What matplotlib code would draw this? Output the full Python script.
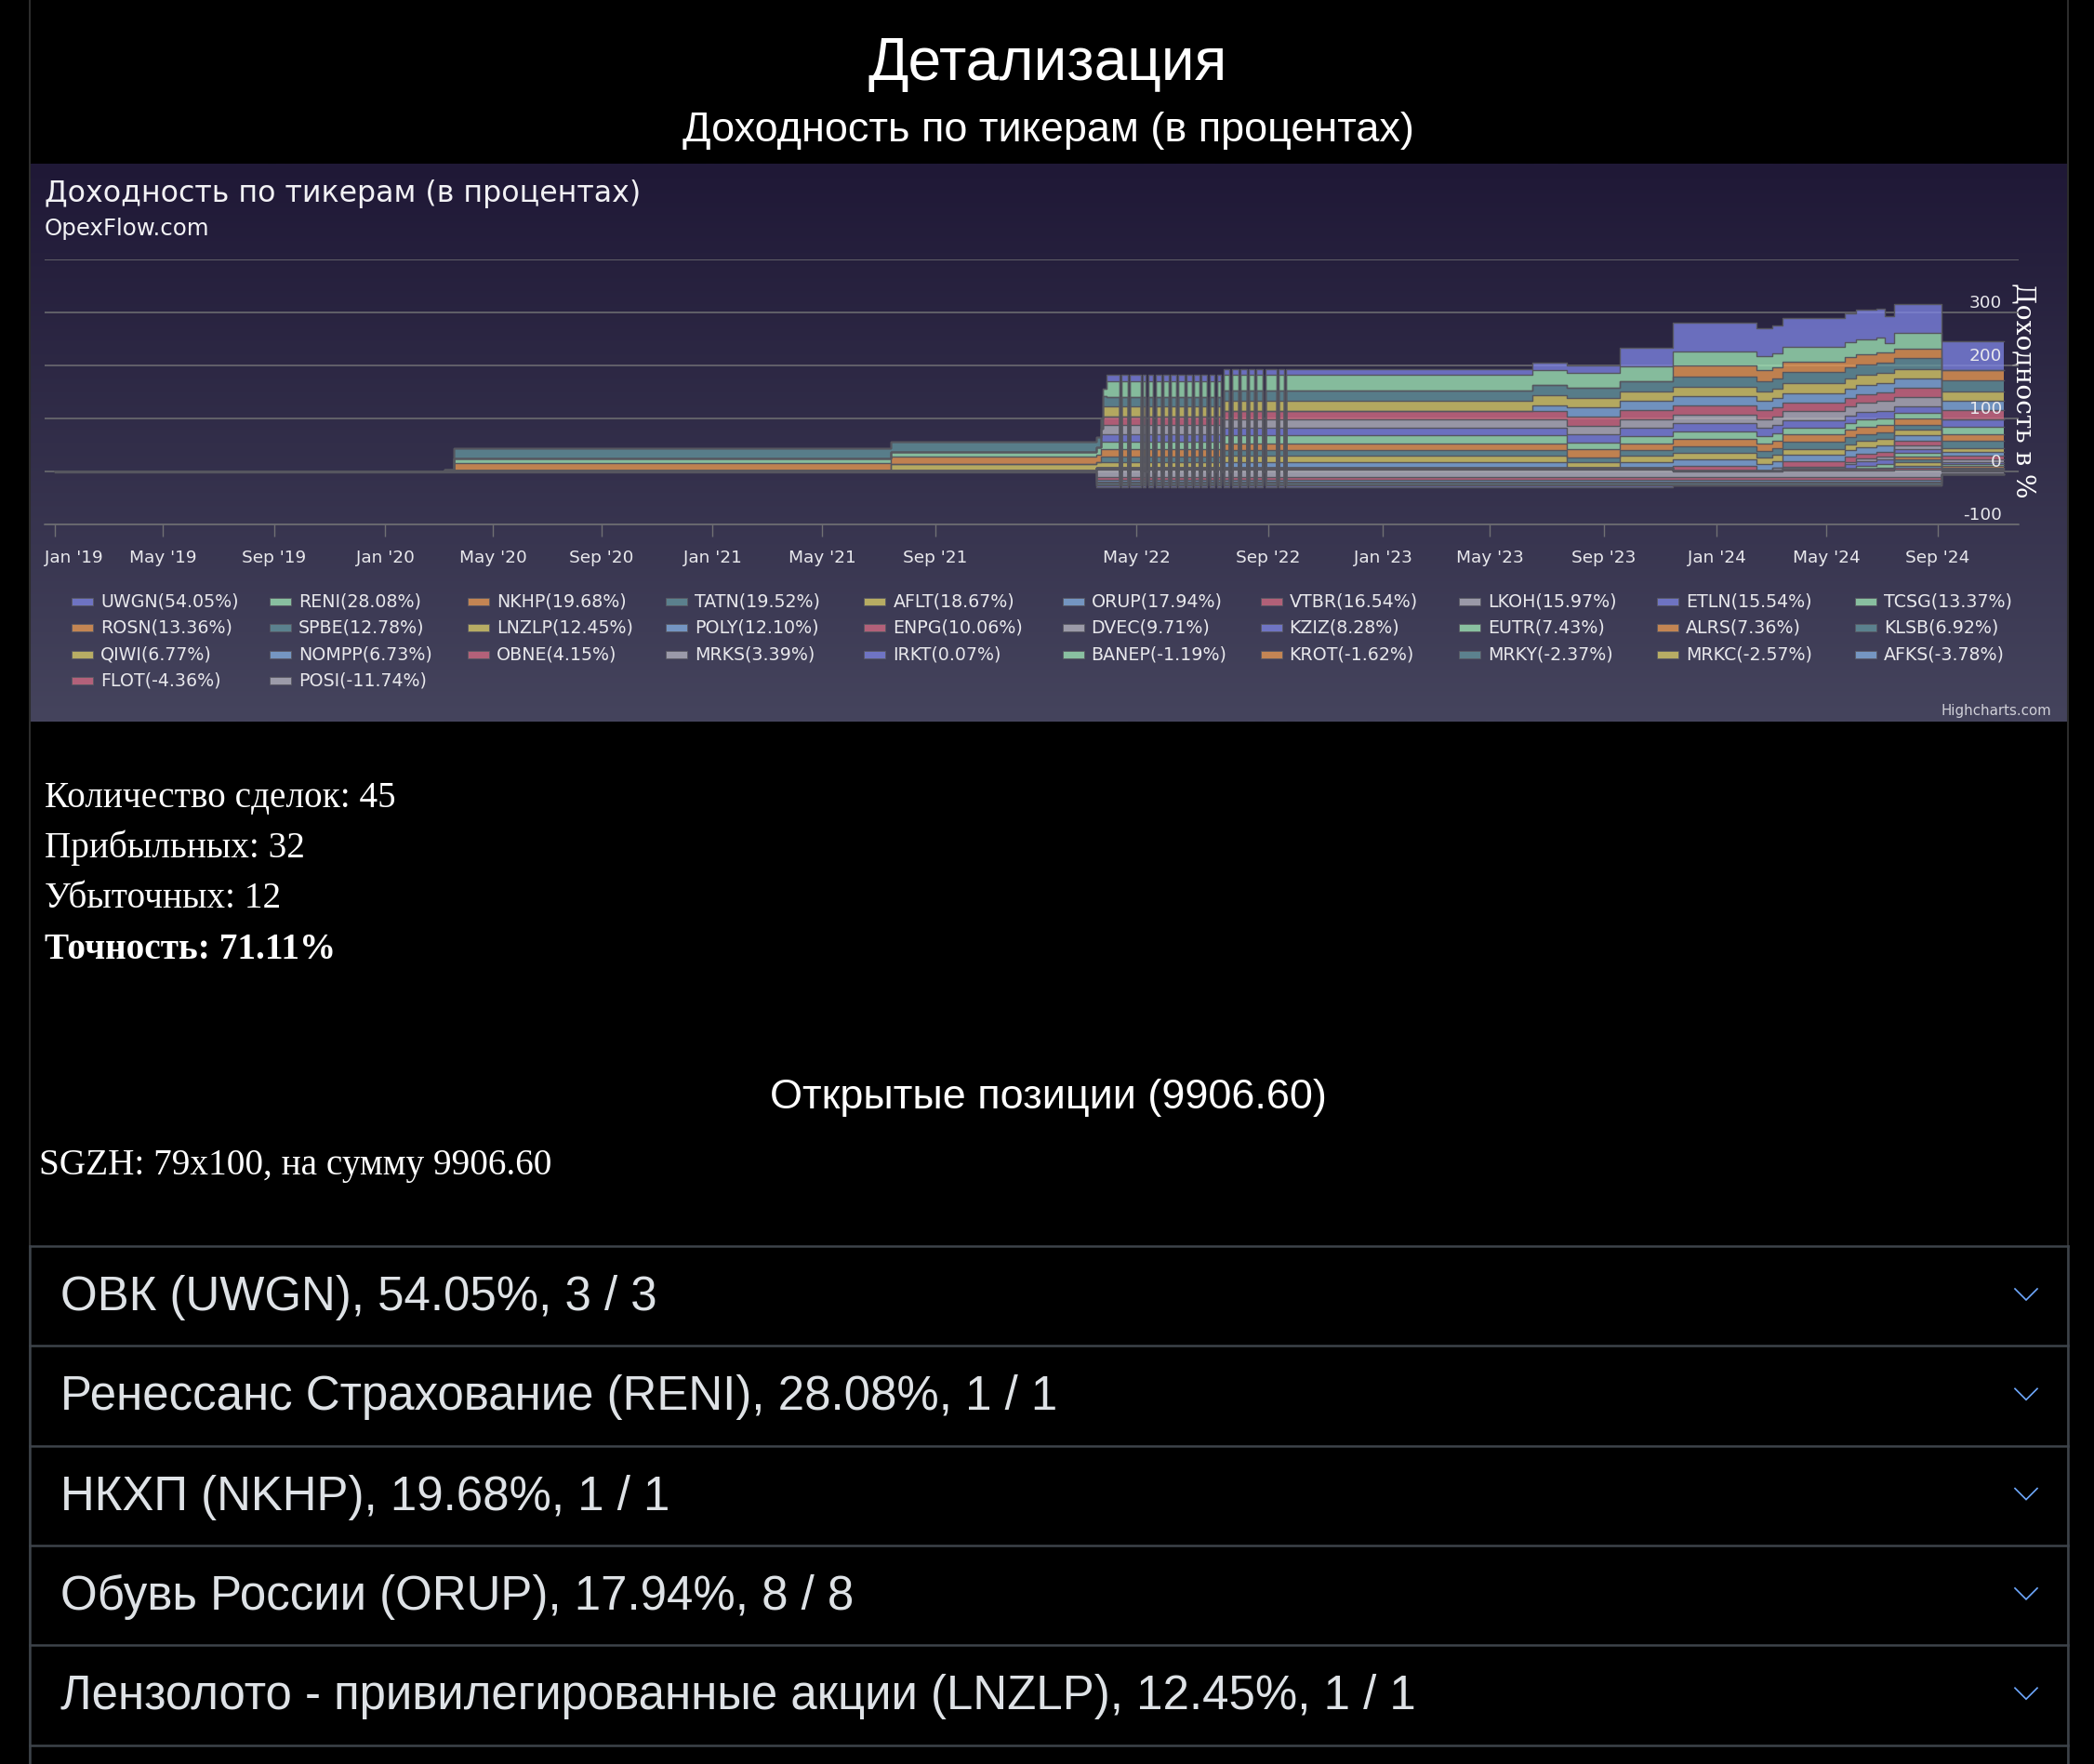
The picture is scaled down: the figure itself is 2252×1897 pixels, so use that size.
import numpy as np
import matplotlib
matplotlib.use('Agg')
import matplotlib.pyplot as plt
import matplotlib.dates as mdates
import matplotlib.transforms as mtransforms
from matplotlib.colors import to_rgba
from matplotlib.patches import Rectangle

W, H, DPI = 2252, 1897, 100

# ---------------- data ----------------
TICKERS = ['UWGN', 'RENI', 'NKHP', 'TATN', 'AFLT', 'ORUP', 'VTBR', 'LKOH', 'ETLN', 'TCSG',
           'ROSN', 'SPBE', 'LNZLP', 'POLY', 'ENPG', 'DVEC', 'KZIZ', 'EUTR', 'ALRS', 'KLSB',
           'QIWI', 'NOMPP', 'OBNE', 'MRKS', 'IRKT', 'BANEP', 'KROT', 'MRKY', 'MRKC', 'AFKS',
           'FLOT', 'POSI']
TOTAL_PCT = [54.05, 28.08, 19.68, 19.52, 18.67, 17.94, 16.54, 15.97, 15.54, 13.37,
             13.36, 12.78, 12.45, 12.10, 10.06, 9.71, 8.28, 7.43, 7.36, 6.92,
             6.77, 6.73, 4.15, 3.39, 0.07, -1.19, -1.62, -2.37, -2.57, -3.78,
             -4.36, -11.74]
PALETTE = ['#8087E8', '#A3EDBA', '#F19E53', '#6699A1', '#E1D369', '#87B4E7', '#DA6D85', '#BBBAC5']

STEP_DATES = ['2019-01-01', '2020-03-08', '2020-03-18', '2021-07-15', '2022-03-14', '2022-03-19',
              '2022-03-22', '2022-03-26', '2022-07-21', '2023-06-16', '2023-07-23', '2023-09-18',
              '2023-11-15', '2024-02-14', '2024-03-03', '2024-03-14', '2024-05-22', '2024-06-03',
              '2024-06-25', '2024-07-05', '2024-07-15', '2024-09-05']
END_DATE = '2024-11-12'
GAP_DATES = ['2022-04-11', '2022-04-21', '2022-05-05', '2022-05-10', '2022-05-17', '2022-05-24',
             '2022-05-31', '2022-06-07', '2022-06-15', '2022-06-22', '2022-06-29', '2022-07-06',
             '2022-07-13', '2022-07-19', '2022-07-27', '2022-08-04', '2022-08-12', '2022-08-19',
             '2022-08-27', '2022-09-10', '2022-09-18']
GAP_DAYS = 2

UWGN = [0, 0, 0, 0, 0, 0, 0, 11.6, 11.6, 14, 12.9, 35, 55.3, 53.8, 53.8, 55.5, 55.5, 55.5, 55.5, 51, 54.4, 55.5]
RENI = [0, 0, 0, 0, 0, 0, 15, 29.3, 29.3, 29.3, 28, 29, 26.3, 26.3, 26.3, 28, 28, 28, 28, 18, 29, 0]
NKHP = [0] * 12 + [20.4, 20.4, 20.4, 18.7, 18.7, 18.7, 18.7, 18.7, 17.6, 19.3]
TATN = [0, 0, 19.3, 19.3, 19.3, 19.3, 19.3, 18.7, 18.7, 18.7, 20.5, 19, 19.4, 19.4, 19.4, 20.5, 20.5, 20.5, 20.5, 20.5, 20.5, 19.9]
AFLT = [0, 0, 0, 0, 0, 0, 19.3, 19.3, 19.3, 19.3, 17.5, 18.4, 17.6, 17.6, 17.6, 19.3, 19.3, 19.3, 19.3, 19.3, 18.7, 17.5]
ORUP = [0] * 9 + [10, 17.5, 17.6, 17.4, 17.4, 17.4, 17.5, 17.5, 17.5, 17.5, 17.5, 17.5, 17.5]
VTBR = [0, 0, 0, 0, 0, 0, 15.8, 15.8, 15.8, 15.8, 17.6, 16, 17, 17, 17, 15.8, 15.8, 15.8, 15.8, 15.8, 17.5, 17.5]
LKOH = [0, 0, 0, 0, 0, 10, 16.3, 16.3, 16.3, 16.3, 15.8, 16.5, 16.4, 16.4, 16.4, 17.6, 17.6, 17.6, 17.6, 17.6, 16.4, 0]
ETLN = [0, 0, 0, 0, 0, 14.6, 14.6, 14.6, 14.6, 14.6, 15.2, 15.2, 16.3, 16.3, 16.3, 14.5, 14.5, 14.5, 14.5, 14.5, 13, 15.2]
TCSG = [0, 3, 9.9, 8.8, 14.7, 14.7, 14.7, 14.7, 14.7, 14.7, 12.9, 14.1, 12.9, 12.9, 12.9, 12.9, 12.9, 12.9, 12.9, 12.9, 11, 13]
ROSN = [0, 0, 12.9, 14, 12.8, 12.8, 12.8, 12.8, 12.8, 12.8, 14.6, 12.8, 14.6, 14.6, 14.6, 13.5, 13.5, 13.5, 13.5, 13.5, 11, 12.9]
SPBE = [0, 0, 0, 0, 0, 10.6, 10.6, 10.6, 10.6, 10.6, 9.9, 10.6, 11.7, 11.7, 11.7, 13.4, 13.4, 13.4, 13.4, 13.4, 10, 13.4]
LNZLP = [0, 0, 0, 12.3, 11.7, 11.7, 11.7, 11.7, 11.7, 11.7, 10.6, 11.7, 12.9, 12.9, 12.9, 11.7, 11.7, 11.7, 11.7, 11.7, 10, 8]
POLY = [0] * 8 + [11.7, 11.7, 0, 11.7, 12.3, 12.3, 12.3, 11.7, 11.7, 11.7, 11.7, 11.7, 10, 7]
ENPG = [0] * 12 + [8.7, 0, 0, 9.9, 9.9, 9.9, 9.9, 9.9, 9, 6]
DVEC = [0] * 14 + [5, 5, 5, 5, 5, 5, 8, 5]
KZIZ = [0] * 16 + [8.8, 8.8, 8.8, 8.8, 7, 4.5]
EUTR = [0] * 17 + [6, 6, 6, 6, 3.5]
ALRS = [0] * 18 + [3, 3, 6, 3]
KLSB = [0] * 20 + [5.5, 2.5]
QIWI = [0] * 20 + [5.5, 2]
NOMPP = [0] * 20 + [5, 1.5]
OBNE = [0, 0, 0, 0, 3, 3, 3, 3, 3, 3, 3, 3, 1, 1, 1, 2.5, 2.5, 2.5, 2.5, 2.5, 3.5, 1]
MRKS = [0, 0, 2.3, 2.3, 3.4, 3.4, 3.4, 3.4, 3.4, 3.4, 3.4, 3.4, 0.8, 0.8, 0.8, 2, 2, 2, 2, 2, 2.9, 0.4]
IRKT = [-2.5] * 12 + [0] * 10
BANEP = [0] * 4 + [-1.2] * 17 + [0]
KROT = [0] * 4 + [-1.6] * 17 + [0]
MRKY = [0] * 4 + [-2.4] * 17 + [0]
MRKC = [0] * 4 + [-2.6] * 17 + [0]
AFKS = [0] * 4 + [-3.8] * 17 + [-1]
FLOT = [0] * 4 + [-4.4] * 17 + [-1]
POSI = [0] * 4 + [-11] * 17 + [-4]

SERIES = [UWGN, RENI, NKHP, TATN, AFLT, ORUP, VTBR, LKOH, ETLN, TCSG,
          ROSN, SPBE, LNZLP, POLY, ENPG, DVEC, KZIZ, EUTR, ALRS, KLSB,
          QIWI, NOMPP, OBNE, MRKS, IRKT, BANEP, KROT, MRKY, MRKC, AFKS,
          FLOT, POSI]

XTICK_DATES = ['2019-01-01', '2019-05-01', '2019-09-01', '2020-01-01', '2020-05-01', '2020-09-01',
               '2021-01-01', '2021-05-01', '2021-09-01', '2022-05-01', '2022-09-01', '2023-01-01',
               '2023-05-01', '2023-09-01', '2024-01-01', '2024-05-01', '2024-09-01']
XTICK_LABELS = ["Jan '19", "May '19", "Sep '19", "Jan '20", "May '20", "Sep '20", "Jan '21", "May '21",
                "Sep '21", "May '22", "Sep '22", "Jan '23", "May '23", "Sep '23", "Jan '24", "May '24",
                "Sep '24"]
YTICKS = [-100, 0, 100, 200, 300, 400]
YLABELS = ['-100', '0', '100', '200', '300']

STATS = ['Количество сделок: 45', 'Прибыльных: 32', 'Убыточных: 12']
ACCURACY = 'Точность: 71.11%'
OPEN_TITLE = 'Открытые позиции (9906.60)'
OPEN_LINE = 'SGZH: 79x100, на сумму 9906.60'
ITEMS = ['ОВК (UWGN), 54.05%, 3 / 3',
         'Ренессанс Страхование (RENI), 28.08%, 1 / 1',
         'НКХП (NKHP), 19.68%, 1 / 1',
         'Обувь России (ORUP), 17.94%, 8 / 8',
         'Лензолото - привилегированные акции (LNZLP), 12.45%, 1 / 1']

# ordinal-like axis anchors (layout of the original time axis)
ANCHOR_DATES = ['2018-01-01'] + XTICK_DATES + ['2026-01-01']
ANCHOR_PX = [-298, 59, 175, 295, 414, 530, 647, 766, 884, 1006, 1222, 1364, 1487, 1602, 1725,
             1846, 1964, 2084, 2561]

# ---------------- build stacks ----------------
step_t = np.array(STEP_DATES, dtype='datetime64[D]')
gap_t = np.array(GAP_DATES, dtype='datetime64[D]')
gap_e = gap_t + np.timedelta64(GAP_DAYS, 'D')
end_t = np.array([END_DATE], dtype='datetime64[D]')
grid = np.unique(np.concatenate([step_t, gap_t, gap_e, end_t]))
idx = np.searchsorted(step_t, grid, side='right') - 1
in_gap = np.zeros(len(grid), bool)
for s, e in zip(gap_t, gap_e):
    in_gap |= (grid >= s) & (grid < e)
V = np.array(SERIES, dtype=float)[:, idx]
V[:, in_gap] = 0.0
xs = mdates.date2num(grid)

pos = np.clip(V, 0, None)
neg = np.clip(V, None, 0)
pos_base = np.cumsum(pos[::-1], axis=0)[::-1] - pos
neg_base = np.cumsum(neg[::-1], axis=0)[::-1] - neg

# ---------------- figure ----------------
fig = plt.figure(figsize=(W / DPI, H / DPI), dpi=DPI, facecolor='black')
pg = fig.add_axes([0, 0, 1, 1])
pg.set_zorder(1)
pg.axis('off')

PANEL = (32, 2224, 176, 776)
grad = np.linspace(0, 1, 256)[:, None, None]
c0 = np.array(to_rgba('#1f1836')[:3])
c1 = np.array(to_rgba('#45445d')[:3])
img = c0 + (c1 - c0) * grad
pg.imshow(img, extent=[PANEL[0], PANEL[1], PANEL[3], PANEL[2]], aspect='auto',
          origin='upper', interpolation='bilinear', zorder=0)
pg.set_xlim(0, W)
pg.set_ylim(H, 0)

SANS = 'Liberation Sans'
SERIF = 'Liberation Serif'
CH = 'DejaVu Sans'
px = lambda v: v * 0.72

# page borders
pg.plot([32, 32], [0, H], color='#2c2c2c', lw=1.5, zorder=0.5)
pg.plot([2224, 2224], [0, H], color='#2c2c2c', lw=1.5, zorder=0.5)

pg.text(1127, 86, 'Детализация', ha='center', va='baseline', family=SANS, fontsize=px(64), color='white')
pg.text(1127, 152, 'Доходность по тикерам (в процентах)', ha='center', va='baseline', family=SANS,
        fontsize=px(45), color='white')

pg.text(48, 217, 'Доходность по тикерам (в процентах)', ha='left', va='baseline', family=CH,
        fontsize=px(31.7), color='#f2f2f5')
pg.text(48, 253, 'OpexFlow.com', ha='left', va='baseline', family=CH, fontsize=px(24.5), color='#f2f2f5')
pg.text(2206, 769, 'Highcharts.com', ha='right', va='baseline', family=CH, fontsize=px(15), color='#d0d0d8')
pg.text(2176, 420, 'Доходность в %', rotation=-90, ha='center', va='center', family='DejaVu Serif',
        fontsize=px(28), color='white')

# legend
for k, (t, p) in enumerate(zip(TICKERS, TOTAL_PCT)):
    r, c = divmod(k, 10)
    x0 = 77 + c * 213.1
    yc = 646.7 + r * 28.4
    col = PALETTE[k % len(PALETTE)]
    pg.add_patch(Rectangle((x0, yc - 4), 23, 8, facecolor=to_rgba(col, 0.75), edgecolor='#5a5a64',
                           lw=0.6, zorder=2))
    pg.text(x0 + 31, yc, f'{t}({p:.2f}%)', ha='left', va='center', family=CH, fontsize=px(19),
            color='#e8e8ec', zorder=2)

# stats text
for k, s in enumerate(STATS):
    pg.text(48, 868 + k * 54.2, s, ha='left', va='baseline', family=SERIF, fontsize=px(39.3), color='white')
pg.text(48, 1030.6, ACCURACY, ha='left', va='baseline', family=SERIF, fontsize=px(39.3), color='white',
        fontweight='bold')
pg.text(1127, 1192, OPEN_TITLE, ha='center', va='baseline', family=SANS, fontsize=px(45), color='white')
pg.text(42, 1263, OPEN_LINE, ha='left', va='baseline', family=SERIF, fontsize=px(39.3), color='white')

# accordion
ROW_TOP = 1340
ROW_H = 107.3
for k in range(6):
    y = ROW_TOP + k * ROW_H
    pg.plot([32, 2224], [y, y], color='#3d434a', lw=1.8, zorder=1)
pg.plot([32, 32], [ROW_TOP, H], color='#3d434a', lw=1.8, zorder=1)
pg.plot([2224, 2224], [ROW_TOP, H], color='#3d434a', lw=1.8, zorder=1)
for k, s in enumerate(ITEMS):
    yb = ROW_TOP + 69 + k * ROW_H
    pg.text(65, yb, s, ha='left', va='baseline', family=SANS, fontsize=px(51), color='#dee2e6')
    yc = ROW_TOP + 52 + k * ROW_H
    pg.plot([2167, 2179, 2191], [yc - 6, yc + 6, yc - 6], color='#6ea8fe', lw=1.2,
            solid_joinstyle='miter', zorder=2)

# ---------------- chart axes ----------------
L, R, T, B = 48, 2171, 279, 564
ax = fig.add_axes([L / W, (H - B) / H, (R - L) / W, (B - T) / H])
ax.set_zorder(2)
ax.patch.set_alpha(0)

an = mdates.date2num(np.array(ANCHOR_DATES, dtype='datetime64[D]'))
ap = np.array(ANCHOR_PX, dtype=float)
fwd = lambda x: np.interp(x, an, ap)
inv = lambda y: np.interp(y, ap, an)
ax.set_xscale('function', functions=(fwd, inv))

LINE = '#56565f'
n = len(SERIES)
for i in range(n - 1, -1, -1):
    col = to_rgba(PALETTE[i % len(PALETTE)], 0.75)
    if pos[i].any():
        ax.fill_between(xs, pos_base[i], pos_base[i] + pos[i], step='post', facecolor=col, lw=0, zorder=2)
    if neg[i].any():
        ax.fill_between(xs, neg_base[i], neg_base[i] + neg[i], step='post', facecolor=col, lw=0, zorder=2)
for i in range(n - 1, -1, -1):
    if pos[i].any():
        ax.plot(xs, pos_base[i] + pos[i], drawstyle='steps-post', color=LINE, lw=1.0, zorder=3)
    if neg[i].any():
        ax.plot(xs, neg_base[i] + neg[i], drawstyle='steps-post', color=LINE, lw=1.0, zorder=3)

ax.set_xlim(float(inv(L)), float(inv(R)))
ax.set_ylim(-100, 400)
ax.set_yticks(YTICKS)
ax.tick_params(axis='y', length=0, labelleft=False, labelright=False)
ax.grid(axis='y', color='#707073', lw=1.1, zorder=0)
ax.set_axisbelow(True)
for s in ['top', 'left', 'right']:
    ax.spines[s].set_visible(False)
ax.spines['bottom'].set_color('#707073')
ax.spines['bottom'].set_linewidth(1.1)
ax.set_xticks(mdates.date2num(np.array(XTICK_DATES, dtype='datetime64[D]')))
ax.set_xticklabels(XTICK_LABELS, family=CH, fontsize=px(18.5), color='#e8e8ec')
ax.tick_params(axis='x', length=9.4, width=1.0, color='#707073', pad=10)
ax.xaxis.set_minor_locator(matplotlib.ticker.NullLocator())
# first label is kept inside the plot area (justified to the left edge)
first = ax.get_xticklabels()[0]
first.set_ha('left')
first.set_transform(first.get_transform() + mtransforms.ScaledTranslation(-11 / DPI, 0, fig.dpi_scale_trans))

for v, lab in zip(YTICKS[:-1], YLABELS):
    ax.annotate(lab, xy=(1, v), xycoords=('axes fraction', 'data'), xytext=(-13, 7.5),
                textcoords='offset points', ha='right', va='center', family=CH, fontsize=px(18.5),
                color='#e8e8ec', zorder=5, annotation_clip=False)

fig.savefig('out.png', dpi=DPI, facecolor='black')
